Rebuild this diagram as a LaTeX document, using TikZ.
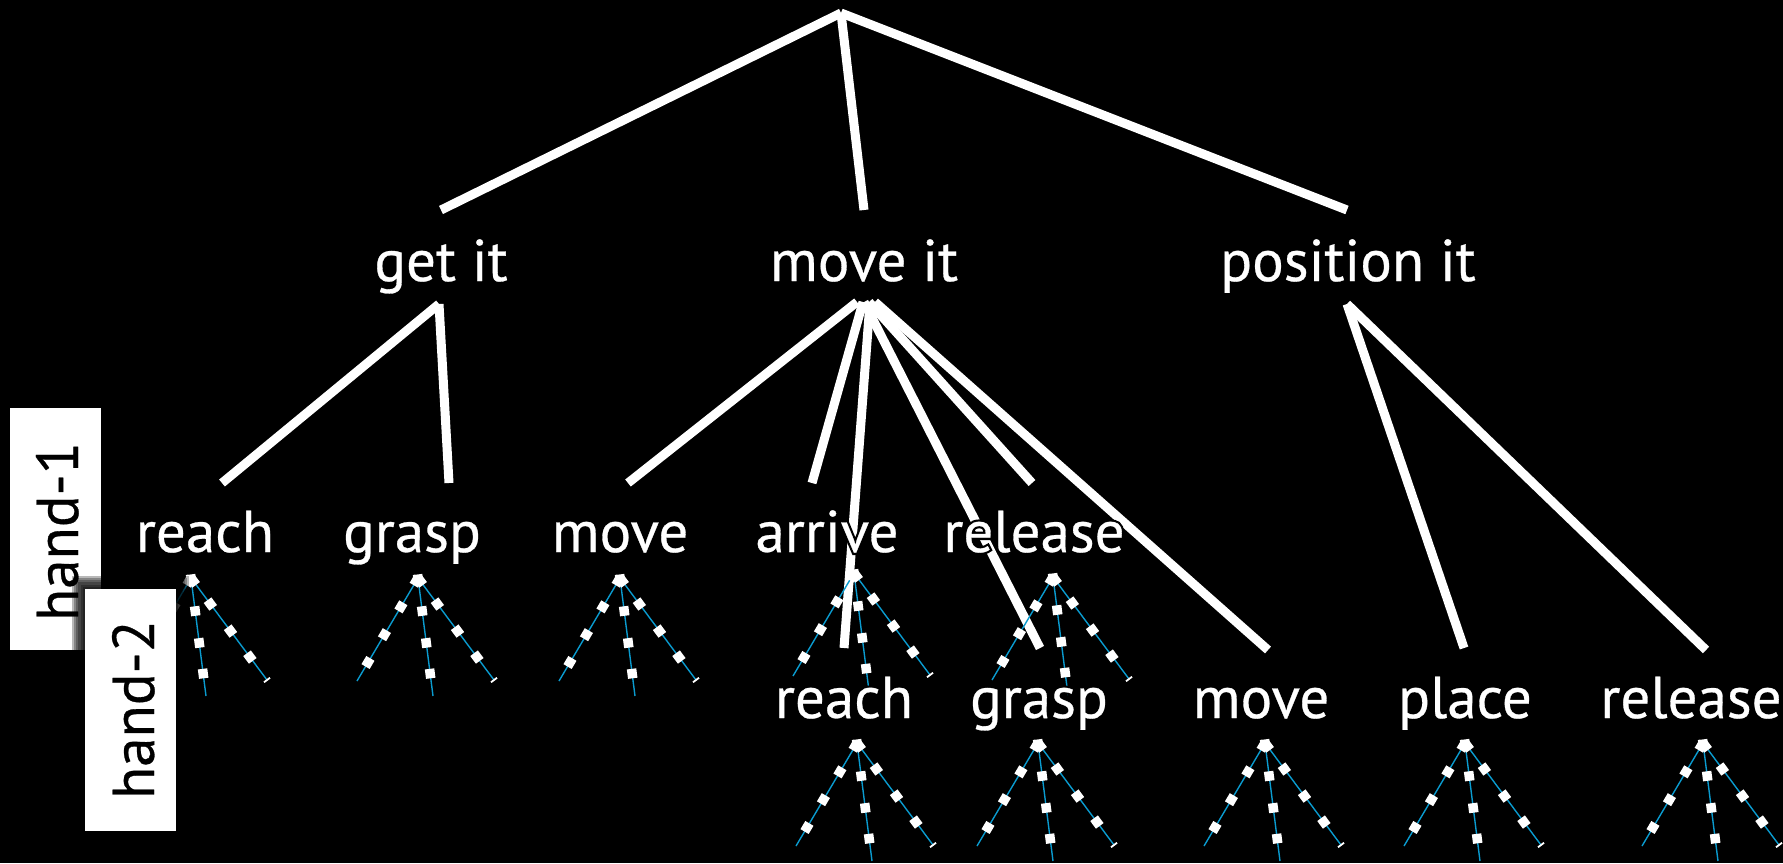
\documentclass[tikz,border=0pt]{standalone}
\usepackage{fontspec}
\setmainfont{PT Sans}
\newfontfamily\wordface{PT Sans}[FakeBold=0.5]
\newfontfamily\haloface{PT Sans}[FakeBold=8]
\definecolor{legblue}{HTML}{0A9BCF}
\tikzset{
	branch/.style={white,line width=9pt},
	leg/.style={legblue,line width=1.4pt},
	joint/.style={fill=white,inner sep=0pt,minimum size=9.5pt,sloped},
	tick/.style={fill=white,inner sep=0pt,minimum width=1.8pt,minimum height=7.5pt,sloped},
	word/.style={white,anchor=base,inner sep=0pt,font=\wordface\fontsize{59}{59}\selectfont},
	halo/.style={black,anchor=base,inner sep=0pt,font=\haloface\fontsize{59}{59}\selectfont},
	handbox/.style={fill=white,inner sep=0pt,minimum width=242pt,minimum height=91pt,rotate=90},
	handword/.style={black,rotate=90,anchor=base,inner sep=0pt,font=\wordface\fontsize{59}{59}\selectfont}
}
\newcommand{\handtree}[3]{
	\coordinate (#1) at (#2,#3);
	\draw[leg] (#1) -- ++(-61,103) node[joint,pos=0.03]{} node[joint,pos=0.28]{} node[joint,pos=0.55]{} node[joint,pos=0.82]{};
	\draw[leg] (#1) -- ++(15,118) node[joint,pos=0.01]{} node[joint,pos=0.28]{} node[joint,pos=0.55]{} node[joint,pos=0.81]{};
	\draw[leg] (#1) -- ++(76,102) node[joint,pos=0.03]{} node[joint,pos=0.255]{} node[joint,pos=0.52]{} node[joint,pos=0.775]{} node[tick,pos=1]{};
}
\newcommand{\wordnode}[4]{
	\node[halo] (#1halo) at (#2,#3) {#4};
	\node[word] (#1) at (#2,#3) {#4};
}
\begin{document}
\begin{tikzpicture}[x=1pt,y=-1pt]
	\fill[black] (0,0) rectangle (1783,863);

	\coordinate (root) at (841,13);
	\coordinate (getin) at (441,210);
	\coordinate (movein) at (864,210);
	\coordinate (posin) at (1347,210);
	\coordinate (getout) at (439,304);
	\coordinate (posout) at (1347,304);
	\coordinate (reachA) at (222,483);
	\coordinate (graspA) at (449,483);
	\coordinate (moveA) at (628,483);
	\coordinate (arriveA) at (812,483);
	\coordinate (releaseA) at (1032,483);
	\coordinate (reachB) at (844,648);
	\coordinate (graspB) at (1040,648);
	\coordinate (moveB) at (1268,650);
	\coordinate (placeB) at (1464,648);
	\coordinate (releaseB) at (1706,650);

	\foreach \dest in {getin,movein,posin} {\draw[branch] (root) -- (\dest);}
	\foreach \dest in {reachA,graspA} {\draw[branch] (getout) -- (\dest);}
	\foreach \dest in {placeB,releaseB} {\draw[branch] (posout) -- (\dest);}
	\foreach \sx/\dest in {857/moveA,863/arriveA,870/reachB,864/graspB,869/releaseA,875/moveB} {
		\coordinate (from\dest) at (\sx,302);
		\draw[branch] (from\dest) -- (\dest);
	}

	\foreach \nm/\tx/\ty in {treeA/191/578,treeB/418/578,treeC/620/578,treeD/854/573,treeE/1053/577,treeF/857/743,treeG/1038/743,treeH/1265/743,treeI/1465/743,treeJ/1703/743} {
		\handtree{\nm}{\tx}{\ty}
	}

	\wordnode{getit}{441}{281}{get it}
	\wordnode{moveit}{864}{281}{move it}
	\wordnode{posit}{1348}{281}{position it}
	\wordnode{reachone}{205}{552}{reach}
	\wordnode{graspone}{412}{552}{grasp}
	\wordnode{moveone}{620}{552}{move}
	\wordnode{arriveone}{827}{552}{arrive}
	\wordnode{releaseone}{1034}{552}{release}
	\wordnode{reachtwo}{844}{718}{reach}
	\wordnode{grasptwo}{1039}{718}{grasp}
	\wordnode{movetwo}{1261}{718}{move}
	\wordnode{placetwo}{1465}{718}{place}
	\wordnode{releasetwo}{1691}{718}{release}

	\node[handbox] (hand1) at (55.5,529) {};
	\node[handword] (hand1txt) at (78,531.5) {hand-1};
	\foreach \i in {1,...,6} {
		\fill[black,opacity=0.28] (85-2.2*\i,589-2.2*\i) rectangle (176+2.2*\i,831+2.2*\i);
	}
	\node[handbox] (hand2) at (130.5,710) {};
	\node[handword] (hand2txt) at (154,709.5) {hand-2};
\end{tikzpicture}
\end{document}
